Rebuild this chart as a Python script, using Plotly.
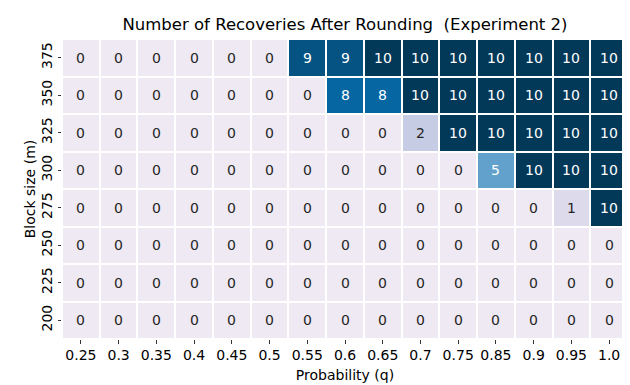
import plotly.graph_objects as go

# probability columns and block-size rows (top row first)
probs = ["0.25", "0.3", "0.35", "0.4", "0.45", "0.5", "0.55", "0.6",
         "0.65", "0.7", "0.75", "0.85", "0.9", "0.95", "1.0"]
block_sizes = ["375", "350", "325", "300", "275", "250", "225", "200"]

row_375 = [0, 0, 0, 0, 0, 0, 9, 9, 10, 10, 10, 10, 10, 10, 10]
row_350 = [0, 0, 0, 0, 0, 0, 0, 8, 8, 10, 10, 10, 10, 10, 10]
row_325 = [0, 0, 0, 0, 0, 0, 0, 0, 0, 2, 10, 10, 10, 10, 10]
row_300 = [0, 0, 0, 0, 0, 0, 0, 0, 0, 0, 0, 5, 10, 10, 10]
row_275 = [0, 0, 0, 0, 0, 0, 0, 0, 0, 0, 0, 0, 0, 1, 10]
row_250 = [0] * 15
row_225 = [0] * 15
row_200 = [0] * 15

z = [row_375, row_350, row_325, row_300, row_275, row_250, row_225, row_200]

scale = [
    [0.0, "#efe9f3"],
    [0.1, "#dcdaeb"],
    [0.2, "#c6cce3"],
    [0.5, "#62a1cb"],
    [0.8, "#0566a2"],
    [0.9, "#045383"],
    [1.0, "#023858"],
]

fig = go.Figure(go.Heatmap(
    z=z, x=probs, y=block_sizes,
    colorscale=scale, zmin=0, zmax=10,
    xgap=2, ygap=2, showscale=False, hoverinfo="skip",
))

# category axes: numeric-looking strings would be read as indices, so use indices
for i, row in enumerate(z):
    for j, v in enumerate(row):
        fig.add_annotation(
            x=j, y=i, text=str(v), showarrow=False,
            font=dict(size=14, color="white" if v >= 5 else "#262626"),
        )

font = "DejaVu Sans, sans-serif"
fig.update_layout(
    width=630, height=385,
    margin=dict(l=54, r=10, t=31, b=54),
    paper_bgcolor="white", plot_bgcolor="white",
    font=dict(family=font, size=14, color="black"),
    title=dict(text="Number of Recoveries After Rounding  (Experiment 2)",
               xref="paper", x=0.5, xanchor="center",
               yref="container", y=0.958, yanchor="middle",
               font=dict(size=16.5, color="black")),
)
fig.update_xaxes(
    type="category", range=[-0.5, len(probs) - 0.5], automargin=False,
    title=dict(text="Probability (q)", standoff=7, font=dict(size=14)),
    ticks="outside", ticklen=3.5, tickcolor="#333", showgrid=False,
    zeroline=False, showline=False, tickfont=dict(size=14),
)
fig.update_yaxes(
    type="category", range=[len(block_sizes) - 0.5, -0.5], automargin=False,
    title=dict(text="Block size (m)", standoff=0, font=dict(size=14)),
    tickangle=-90,
    ticks="outside", ticklen=3.5, tickcolor="#333", showgrid=False,
    zeroline=False, showline=False, tickfont=dict(size=14),
)

fig.write_html("out.html")
